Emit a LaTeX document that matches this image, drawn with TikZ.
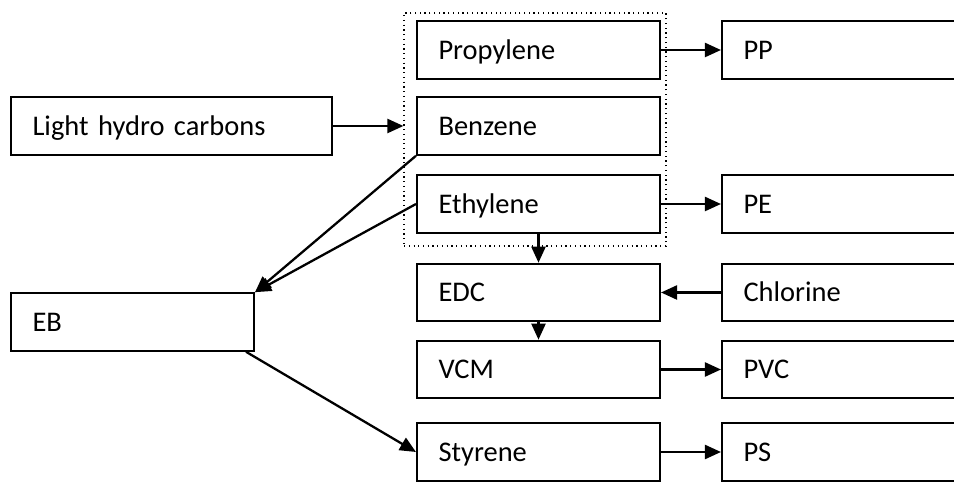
\documentclass[tikz,border=0pt]{standalone}
\usepackage{fontspec}
\setmainfont{Carlito}
\usepackage{tikz}
\usetikzlibrary{arrows.meta}
\usetikzlibrary{calc}

\begin{document}
\begin{tikzpicture}[x=0.02cm, y=-0.02cm,
  unit/.style={draw, line width=1.2pt, minimum width=4.86cm, minimum height=1.15cm,
    text width=4.0cm, inner xsep=0.43cm, align=left, text height=10.4pt, text depth=0pt,
    font=\fontsize{16.2}{19}\selectfont},
  wideunit/.style={unit, minimum width=6.42cm, text width=5.56cm},
  flow/.style={-{Triangle[length=0.32cm, width=0.28cm]}, line width=1.3pt}]

  \path[use as bounding box, clip] (0,0) rectangle (954,482);

	% cracker products
	\node[unit] (prop) at (538.5, 50) {Propylene};
	\node[unit] (benz) at (538.5, 126) {Benzene};
	\node[unit] (eth) at (538.5, 204) {Ethylene};
	\node[draw, dotted, line width=0.7pt, minimum width=5.24cm, minimum height=4.66cm] (grp) at (535, 129.5) {};

	\node[wideunit] (lhc) at (171.5, 126) {Light hydro carbons};
	\node[unit] (eb) at (132.5, 322) {EB};

	\node[unit] (edc) at (538.5, 292.5) {EDC};
	\node[unit] (vcm) at (538.5, 369.5) {VCM};
	\node[unit] (sty) at (538.5, 452) {Styrene};

	% polymers
	\node[unit] (pp) at (843.5, 50) {PP};
	\node[unit] (pe) at (843.5, 204) {PE};
	\node[unit] (chl) at (843.5, 292.5) {Chlorine};
	\node[unit] (pvc) at (843.5, 369.5) {PVC};
	\node[unit] (ps) at (843.5, 452) {PS};

	\draw[flow] (lhc.east) -- (lhc.east -| grp.west);
	\draw[flow] (prop.east) -- (pp.west);
	\draw[flow] (eth.east) -- (pe.west);
	\draw[flow] (eth.south) -- (edc.north);
	\draw[flow] (chl.west) -- (edc.east);
	\draw[flow] (edc.south) -- (vcm.north);
	\draw[flow] (vcm.east) -- (pvc.west);
	\draw[flow] (sty.east) -- (ps.west);

	\draw[flow] (benz.south west) -- (eb.north east);
	\draw[flow] (eth.west) -- (eb.north east);
	\draw[flow] ([xshift=-0.18cm]eb.south east) -- (sty.west);

\end{tikzpicture}
\end{document}
